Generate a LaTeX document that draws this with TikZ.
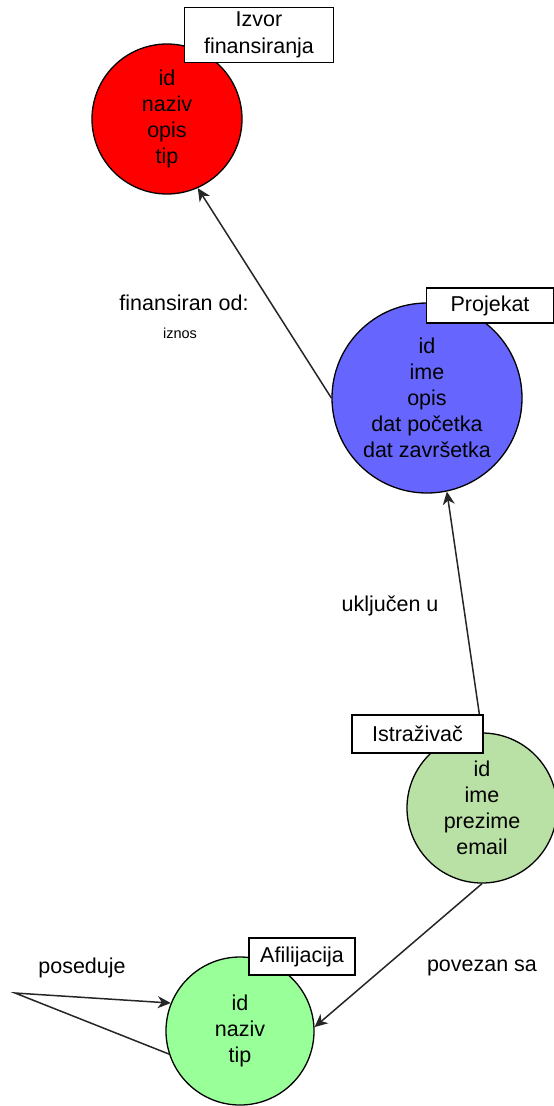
\documentclass[tikz,border=0pt]{standalone}
\usepackage{fontspec}
\setmainfont{Liberation Sans}
\usetikzlibrary{arrows.meta}
\definecolor{entRed}{HTML}{FF0000}
\definecolor{entBlue}{HTML}{6666FF}
\definecolor{entSage}{HTML}{B9E0A5}
\definecolor{entMint}{HTML}{99FF99}
\begin{document}
\begin{tikzpicture}[x=1pt,y=-1pt,
  every node/.style={font=\fontsize{21.5}{26}\selectfont},
  entity/.style={circle,draw=black,line width=1.3pt,inner sep=0pt,align=center},
  tag/.style={rectangle,draw=black,fill=white,line width=1.3pt,inner sep=0pt,align=center},
  rel/.style={draw=black!85,line width=1.5pt,-{Stealth[length=13pt,width=12pt,inset=4pt]}},
  caption/.style={inner sep=0pt}]
\useasboundingbox (0,0) rectangle (554,1106);

% entities
\node[entity,fill=entRed,minimum size=150pt] (izvor) at (167,119) {id\\naziv\\opis\\tip};
\node[entity,fill=entBlue,minimum size=190pt] (projekat) at (427,398) {id\\ime\\opis\\dat početka\\dat završetka};
\node[entity,fill=entSage,minimum size=150pt] (istr) at (482,808) {id\\ime\\prezime\\email};
\node[entity,fill=entMint,minimum size=148pt] (afil) at (240,1031) {id\\naziv\\tip};

% relationships
\draw[rel] (projekat.west) -- (izvor.-66);
\draw[rel] (istr.north) -- (projekat.-78);
\draw[rel] (istr.south) -- (afil.3);
\coordinate (loop) at (15,993);
\draw[rel] (afil.198) -- (loop) -- (afil.158);

% entity name tags
\node[tag,minimum width=149pt,minimum height=55pt] (tIzvor) at (259,35) {Izvor\\[1pt]finansiranja};
\node[tag,minimum width=127pt,minimum height=35pt] (tProjekat) at (490,305.5) {Projekat};
\node[tag,minimum width=131pt,minimum height=38pt] (tIstr) at (417.5,734) {Istraživač};
\node[tag,minimum width=106pt,minimum height=37pt] (tAfil) at (302,956.5) {Afilijacija};

% relationship captions
\node[caption] (lFin) at (184,303) {finansiran od:};
\node[caption,font=\fontsize{14.5}{17}\selectfont] (lIznos) at (180,333) {iznos};
\node[caption] (lUklj) at (390,606) {uključen u};
\node[caption] (lPov) at (482,968) {povezan sa};
\node[caption] (lPos) at (82,968) {poseduje};
\end{tikzpicture}
\end{document}
